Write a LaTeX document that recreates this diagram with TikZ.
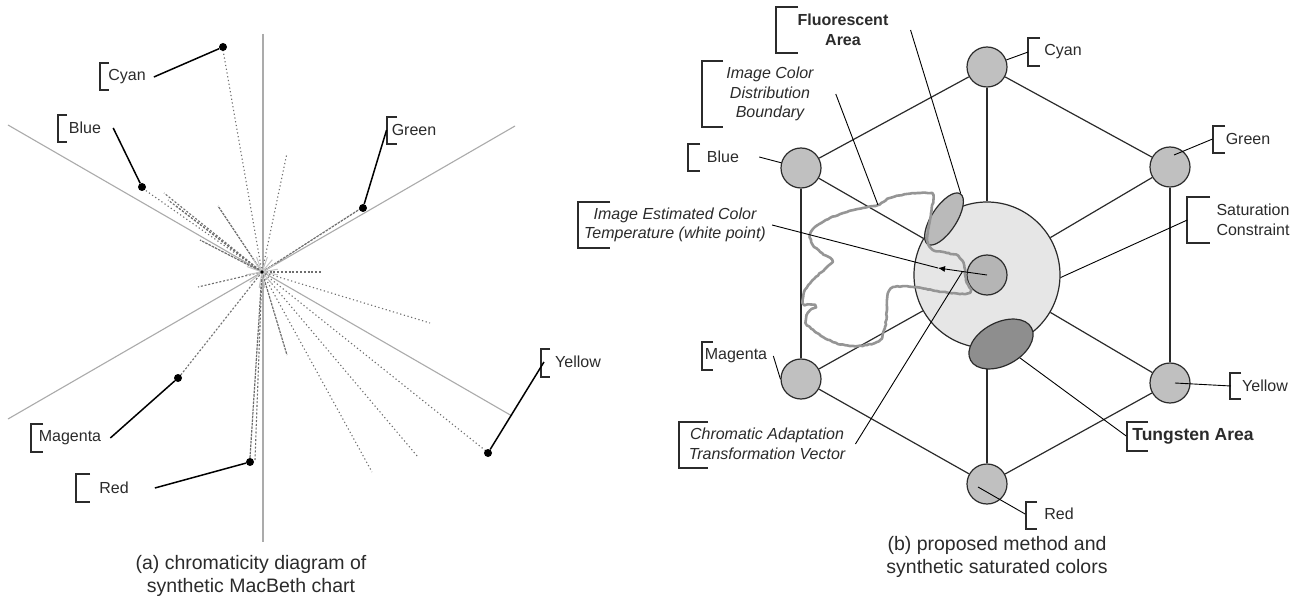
\documentclass[tikz,border=0pt]{standalone}
\usepackage{fontspec}
\setmainfont{Liberation Sans}
\usetikzlibrary{arrows.meta,calc,shapes.geometric,decorations.pathmorphing}
\definecolor{axisgray}{HTML}{ABABAB}
\definecolor{raygray}{HTML}{6E6E6E}
\definecolor{ink}{HTML}{2B2B2B}
\definecolor{hexfill}{HTML}{C0C0C0}
\definecolor{satfill}{HTML}{E6E6E6}
\definecolor{wpfill}{HTML}{B5B5B5}
\definecolor{fluofill}{HTML}{BABABA}
\definecolor{tungfill}{HTML}{8E8E8E}
\definecolor{bndgray}{HTML}{959595}

\begin{document}
\begin{tikzpicture}[x=1pt,y=-1pt,
  lbl/.style={inner sep=0pt, text=ink, font=\fontsize{16}{19.5}\selectfont},
  ilbl/.style={lbl, align=center, font=\fontsize{16}{19.5}\selectfont\itshape},
  blbl/.style={lbl, align=center, font=\fontsize{16}{19.5}\selectfont\bfseries},
  captext/.style={inner sep=0pt, align=center, text=ink, font=\fontsize{19.5}{23.5}\selectfont},
  brk/.style={draw=ink, line width=1.3pt},
  lead/.style={draw=black, line width=1.5pt},
  thinlead/.style={draw=black, line width=0.9pt},
  axisline/.style={draw=axisgray, line width=1.1pt},
  scatray/.style={draw=raygray, line width=1.1pt, dash pattern=on 1.2pt off 2.6pt},
  midray/.style={draw=raygray, line width=1.1pt, dash pattern=on 2pt off 1.8pt},
  denseray/.style={draw=raygray, line width=1.2pt, dash pattern=on 2.6pt off 1pt},
  enddot/.style={circle, fill=black, inner sep=0pt, minimum size=8pt},
  colorv/.style={circle, draw=ink, line width=1.2pt, fill=hexfill, inner sep=0pt, minimum size=40pt},
  hexedge/.style={draw=ink, line width=1.2pt},
]
\useasboundingbox (0,0) rectangle (1302,596);
\fill[white] (0,0) rectangle (1302,596);

% ---------------- (a) chromaticity diagram ----------------
\coordinate (O) at (262,272);
\draw[axisline] (263,34) -- (263,542);
\draw[axisline] (8,125) -- (512,416);
\draw[axisline] (8,419) -- (515,126);

% scattered chart samples along hue rays
\foreach \p in {(223,50),(145,190),(486,451),(418,457),(372,472),(430,323),(287,153)}
  \draw[scatray] (O) -- \p;
\foreach \p in {(164,193),(168,200),(176,206),(180,376),(198,287),(322,272),(255,460)}
  \draw[midray] (O) -- \p;
\foreach \p in {(200,240),(218,206),(360,209),(287,355),(250,458)}
  \draw[denseray] (O) -- \p;
\foreach \a in {10,50,80,100,140,170,200,235,250,290,310,330,350}
  \draw[draw=axisgray!70, line width=1pt] (O) -- ++(\a:16);
\fill[black] (O) circle[radius=1.8pt];

\node[enddot] (dcy) at (223,47) {};
\node[enddot] (dbl) at (142,187) {};
\node[enddot] (dgr) at (363,208) {};
\node[enddot] (dma) at (178,378) {};
\node[enddot] (dre) at (250,462) {};
\node[enddot] (dye) at (488,453) {};

\node[lbl] (lcy) at (127,77) {Cyan};
\draw[brk] (109,63) -| (100,90) -- (109,90);
\draw[lead] ([xshift=8pt]lcy.east) -- (dcy);

\node[lbl] (lblue) at (85,128) {Blue};
\draw[brk] (67,115) -| (58,142) -- (67,142);
\draw[lead] ([xshift=12pt]lblue.east) -- (dbl);

\node[lbl] (lgreen) at (414,130) {Green};
\draw[brk] (397,117) -| (387,144) -- (397,144);
\draw[lead] ([xshift=-5pt]lgreen.west) -- (dgr);

\node[lbl] (lmag) at (70,438) {Magenta};
\draw[brk] (43,424) -| (31,452) -- (43,452);
\draw[lead] ([xshift=9pt]lmag.east) -- (dma);

\node[lbl] (lred) at (114,488) {Red};
\draw[brk] (90,474) -| (76,502) -- (90,502);
\draw[lead] ([xshift=26pt]lred.east) -- (dre);

\node[lbl] (lyel) at (578,362) {Yellow};
\draw[brk] (550,349) -| (541,377) -- (550,377);
\draw[lead] ([xshift=-11pt]lyel.west) -- (dye);

\node[captext] (capa) at (251,576) {(a) chromaticity diagram of\\synthetic MacBeth chart};

% ---------------- (b) proposed method ----------------
\node[circle, draw=ink, line width=1.2pt, fill=satfill, inner sep=0pt, minimum size=146pt] (sat) at (987,275) {};

\node[colorv] (vc) at (987,67) {};
\node[colorv] (vg) at (1170,167) {};
\node[colorv] (vy) at (1170,383) {};
\node[colorv] (vr) at (987,484) {};
\node[colorv] (vm) at (801,379) {};
\node[colorv] (vb) at (801,168) {};

% hexagon of saturated colours
\draw[hexedge] (vc) -- (vg);
\draw[hexedge] (vg) -- (vy);
\draw[hexedge] (vy) -- (vr);
\draw[hexedge] (vr) -- (vm);
\draw[hexedge] (vm) -- (vb);
\draw[hexedge] (vb) -- (vc);
% spokes to the saturation constraint
\foreach \v in {vc,vg,vy,vr,vm,vb}
  \draw[hexedge] (\v) -- (sat);

\node[ellipse, draw=ink, line width=1.2pt, fill=fluofill, inner sep=0pt,
      minimum width=60pt, minimum height=25pt, rotate=57] (fluo) at (944,219) {};
\node[ellipse, draw=ink, line width=1.2pt, fill=tungfill, inner sep=0pt,
      minimum width=69pt, minimum height=43pt, rotate=28] (tung) at (1001,344) {};
\node[circle, draw=ink, line width=1.2pt, fill=wpfill, inner sep=0pt, minimum size=40pt] (wp) at (987,275) {};

% image colour distribution boundary
\draw[draw=bndgray, line width=2.6pt, line join=round,
      decorate, decoration={random steps, segment length=2.5pt, amplitude=0.45pt}]
  plot[smooth cycle, tension=0.45] coordinates {
   (933,195) (920,193) (907,194) (890,198) (878,205) (863,208) (847,212)
   (830,218) (815,227) (810,235) (813,245) (822,253) (832,260) (827,267)
   (815,278) (805,290) (803,303) (815,305) (808,313) (806,323) (817,333)
   (833,342) (850,346) (867,345) (880,340) (885,327) (887,310) (888,293)
   (895,287) (913,287) (937,291) (960,294) (970,292) (966,280) (964,265)
   (958,256) (947,253) (933,250) (928,243) (928,230) (931,213)};
\coordinate (bpt) at (878,205);

% estimated white point and adaptation vector
\coordinate (ewp) at (938,268);
\draw[thinlead, -{Latex[length=7pt,width=6pt]}] (wp.center) -- (ewp);

% right-hand labels
\node[blbl] (lfluo) at (843,30) {Fluorescent\\Area};
\draw[brk] (798,7) -| (776,53) -- (798,53);
\draw[thinlead] ([xshift=22pt]lfluo.east) -- (fluo.east);

\node[ilbl] (licd) at (770,94) {Image Color\\Distribution\\Boundary};
\draw[brk] (723,61) -| (702,127) -- (723,127);
\draw[thinlead] ([xshift=22pt]licd.east) -- (bpt);

\node[lbl] (lblue2) at (723,157) {Blue};
\draw[brk] (700,144) -| (688,171) -- (700,171);
\draw[thinlead] ([xshift=20pt]lblue2.east) -- (vb);

\node[ilbl] (liect) at (675,225) {Image Estimated Color\\Temperature (white point)};
\draw[brk] (610,202) -| (578,248) -- (610,248);
\draw[thinlead] ([xshift=6pt]liect.east) -- (ewp);

\node[lbl] (lmag2) at (736,356) {Magenta};
\draw[brk] (713,342) -| (702,370) -- (713,370);
\draw[thinlead] ([xshift=6pt]lmag2.east) -- (vm.west);

\node[ilbl] (lcatv) at (767,444) {Chromatic Adaptation\\Transformation Vector};
\draw[brk] (708,422) -| (679,468) -- (708,468);
\draw[thinlead] ([xshift=10pt]lcatv.east) -- ($(wp.center)!0.5!(ewp)$);

\node[lbl] (lcy2) at (1063,52) {Cyan};
\draw[brk] (1040,38) -| (1028,66) -- (1040,66);
\draw[thinlead] ([xshift=-16pt]lcy2.west) -- (vc);

\node[lbl] (lgr2) at (1248,139) {Green};
\draw[brk] (1225,126) -| (1213,153) -- (1225,153);
\draw[thinlead] ([xshift=-13pt]lgr2.west) -- ([shift={(4,-12)}]vg.center);

\node[lbl, align=center] (lsat) at (1253,220) {Saturation\\Constraint};
\draw[brk] (1210,197) -| (1187,243) -- (1210,243);
\draw[thinlead] ([xshift=-29pt]lsat.west) -- (sat.-2);

\node[lbl] (lyel2) at (1265,386) {Yellow};
\draw[brk] (1241,373) -| (1230,399) -- (1241,399);
\draw[thinlead] ([xshift=-11pt]lyel2.west) -- ([shift={(5,0)}]vy.center);

\node[blbl, font=\fontsize{17.5}{20}\selectfont\bfseries] (ltung) at (1193,436) {Tungsten Area};
\draw[brk] (1148,422) -| (1127,451) -- (1148,451);
\draw[thinlead] ([xshift=-6pt]ltung.west) -- (tung);

\node[lbl] (lred2) at (1059,514) {Red};
\draw[brk] (1037,502) -| (1026,529) -- (1037,529);
\draw[thinlead] ([xshift=-19pt]lred2.west) -- ([shift={(-9,3)}]vr.center);

\node[captext] (capb) at (997,557) {(b) proposed method and\\synthetic saturated colors};
\end{tikzpicture}
\end{document}
